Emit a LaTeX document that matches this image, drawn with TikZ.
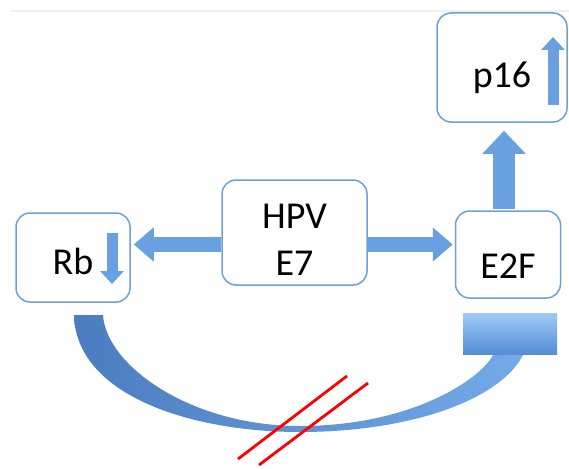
\documentclass[tikz,border=0pt]{standalone}
\usepackage{fontspec}
\setmainfont{Carlito}
\usetikzlibrary{arrows.meta}
\definecolor{boxblue}{RGB}{110,160,215}
\definecolor{arrowblue}{RGB}{105,160,225}
\definecolor{curvedark}{RGB}{75,125,192}
\definecolor{curvelight}{RGB}{115,170,232}
\definecolor{barlight}{RGB}{160,202,246}
\definecolor{bardark}{RGB}{85,140,212}
\tikzset{
  box/.style={draw=boxblue, line width=1.5pt, rounded corners=14pt, fill=white, inner sep=0pt, font=\fontsize{38}{47}\selectfont},
  blockarrow/.style={arrowblue, line width=15pt, -{Triangle[width=33pt,length=20pt]}},
  smallarrow/.style={arrowblue, line width=11pt, -{Triangle[width=23pt,length=13pt]}},
  bar/.style={top color=barlight, bottom color=bardark, draw=none, inner sep=0pt},
  inhib/.style={red, line width=2.8pt},
}
\begin{document}
\begin{tikzpicture}[x=1pt,y=-1pt]
\useasboundingbox (0,0) rectangle (569,468);
\draw[gray!12, line width=1.2pt] (11,11) -- (569,11);

\node[box, minimum width=114pt, minimum height=89pt, text height=33pt, text depth=0pt] (rb) at (73,257.5) {Rb};
\node[box, minimum width=145pt, minimum height=105pt, align=center, text height=85pt, text depth=0pt] (hpv) at (294.5,232.5) {HPV\\E7};
\node[box, minimum width=105pt, minimum height=87pt, text height=48pt, text depth=0pt] (e2f) at (508,254.5) {E2F};
\node[box, minimum width=130pt, minimum height=109pt, text height=41pt, text depth=0pt] (p16) at (502,67.5) {p16};

% block arrows
\coordinate (leftline) at ([yshift=-12pt]hpv.west);
\draw[blockarrow, shorten >=3pt] (leftline) -- (leftline -| rb.east);
\coordinate (rightline) at ([yshift=-12pt]hpv.east);
\draw[blockarrow, shorten >=2pt] (rightline) -- (rightline -| e2f.west);
\coordinate (upline) at ([xshift=-4pt]e2f.north);
\draw[blockarrow, line width=22pt, -{Triangle[width=42pt,length=23pt]}, shorten <=1pt, shorten >=8pt] (upline) -- (upline |- p16.south);

\draw[smallarrow] (112,233) -- (112,284);
\draw[smallarrow] (553,105) -- (553,37);

% inhibition
\shade[left color=curvedark, right color=curvelight] (74,315) .. controls (76,395) and (190,432) .. (300,432) .. controls (410,432) and (500,400) .. (523,355) -- (493,355) .. controls (480,380) and (410,426) .. (300,426) .. controls (190,426) and (106,365) .. (103,315) -- cycle;
\node[bar, minimum width=94pt, minimum height=41pt] (stop) at (510,333.5) {};

\draw[inhib] (238,459) -- (347,376);
\draw[inhib] (259,465) -- (368,383);
\end{tikzpicture}
\end{document}
